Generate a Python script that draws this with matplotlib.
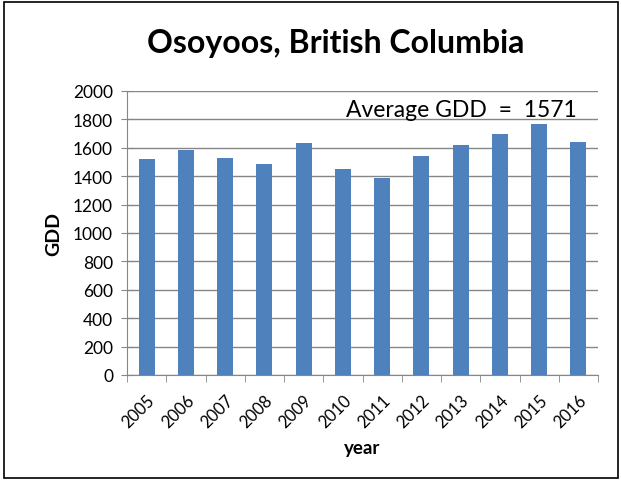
import matplotlib
matplotlib.use('Agg')
import matplotlib.pyplot as plt
from matplotlib.patches import Rectangle

years = ['2005', '2006', '2007', '2008', '2009', '2010',
         '2011', '2012', '2013', '2014', '2015', '2016']
gdd = [1524, 1583, 1528, 1483, 1636, 1452, 1386, 1543, 1619, 1700, 1766, 1643]
avgLabel = 'Average GDD  =  1571'

plt.rcParams['font.family'] = ['Lato', 'DejaVu Sans']

fig = plt.figure(figsize=(6.21, 4.81), dpi=100)
ax = fig.add_axes([127/621, 1 - 376/481, 471/621, 284/481])

barColor = '#4f81bd'
gridColor = '#868686'

x = range(len(years))
ax.bar(x, gdd, 0.41, color=barColor, zorder=3)

# Axes limits and ticks
ax.set_xlim(-0.5, len(years) - 0.5)
ax.set_ylim(0, 2000)
ax.set_yticks(range(0, 2001, 200))
ax.set_yticklabels([str(v) for v in range(0, 2001, 200)], fontsize=12.5)
ax.set_xticks(list(x))
ax.set_xticklabels(years, rotation=45, ha='right', rotation_mode='anchor', fontsize=12)
ax.tick_params(axis='x', length=0, pad=12)
ax.set_xticks([i - 0.5 for i in range(len(years) + 1)], minor=True)
ax.tick_params(axis='x', which='minor', length=5, color=gridColor, direction='out')
ax.tick_params(axis='y', length=8, color=gridColor, direction='inout', pad=6)

# Grid
ax.yaxis.grid(True, color=gridColor, linewidth=1.0)
ax.set_axisbelow(True)
for side in ['top', 'right']:
  ax.spines[side].set_visible(False)
for side in ['left', 'bottom']:
  ax.spines[side].set_color(gridColor)

# Labels
ax.set_ylabel('GDD', fontsize=14, fontweight='bold', labelpad=8)
ax.set_xlabel('year', fontsize=13.5, fontweight='bold', labelpad=6)
fig.text(336/621, 1 - 44/481, 'Osoyoos, British Columbia', fontsize=23, fontweight='bold',
         ha='center', va='center')
ax.text(0.955, 0.935, avgLabel, transform=ax.transAxes, fontsize=16.5, ha='right', va='center')

# Outer frame
fig.patches.append(Rectangle((4/621, 2/481), 614/621, 476/481, transform=fig.transFigure,
                             fill=False, edgecolor='black', linewidth=1.2))

fig.savefig('out.png', dpi=100)
